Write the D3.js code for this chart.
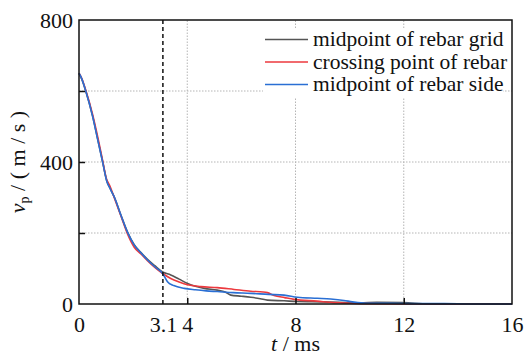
<!DOCTYPE html>
<html>
<head>
<meta charset="utf-8">
<script src="https://cdn.jsdelivr.net/npm/d3@7"></script>
<style>
  html, body { margin: 0; padding: 0; background: #fff; }
  svg { display: block; }
</style>
</head>
<body>
<svg id="chart" width="524" height="355"></svg>
<script>
// Particle velocity decay over time at three measuring points
const seriesNames = ["midpoint of rebar grid", "crossing point of rebar", "midpoint of rebar side"];
const seriesColors = ["#555555", "#ec393e", "#2a6fd4"];

// time (ms) and velocity (m/s) for each measuring point
const gridT = [0, 0.1, 0.25, 0.5, 0.7, 0.87, 1.03, 1.15, 1.3, 1.55, 1.8, 2.04, 2.3, 2.53, 2.8, 3.09, 3.39, 3.7, 4.01, 4.3, 4.63, 5.11, 5.4, 5.61, 6.0, 6.35, 6.7, 6.96, 7.58, 8.07, 9.0, 10.4, 11.0, 12.0, 12.9, 14.0, 16.0];
const gridV = [650, 634, 600, 530, 461, 402, 346, 326, 302, 250, 201, 167, 144, 126, 108, 90, 82, 70, 58, 50, 44, 39, 34, 25, 22, 19, 15, 11, 9, 7, 6, 3, 5, 4, 0, 0, 0];

const crossT = [0, 0.1, 0.25, 0.5, 0.7, 0.87, 1.0, 1.15, 1.3, 1.55, 1.8, 2.04, 2.3, 2.53, 2.8, 3.09, 3.39, 3.7, 4.01, 4.5, 5.11, 5.73, 6.35, 6.8, 6.96, 7.21, 7.6, 7.95, 8.8, 9.4, 9.79, 10.4, 12.0, 16.0];
const crossV = [650, 636, 602, 535, 468, 405, 356, 331, 300, 248, 196, 160, 140, 122, 103, 86, 72, 62, 54, 49, 46, 41, 36, 34, 32, 24, 18, 13, 8, 4, 3, 1, 0, 0];

const sideT = [0, 0.1, 0.25, 0.5, 0.7, 0.87, 1.03, 1.15, 1.3, 1.55, 1.8, 2.04, 2.3, 2.53, 2.8, 3.09, 3.27, 3.5, 3.89, 4.3, 4.7, 5.11, 5.7, 6.35, 7.0, 7.58, 8.07, 8.8, 9.3, 9.79, 10.1, 10.6, 11.5, 12.5, 13.5, 14.5, 16.0];
const sideV = [650, 635, 600, 530, 460, 401, 345, 325, 302, 250, 201, 166, 143, 124, 105, 86, 63, 52, 44, 40, 37, 35, 32, 30, 27, 25, 19, 16, 14, 10, 6, 2, 2, 1, 1, 0, 0];

const xLabelTicks = [0, 3.1, 4, 8, 12, 16];
const xInnerTicks = [4, 8, 12];
const yLabelTicks = [0, 400, 800];
const yInnerTicks = [200, 400, 600];
const markerTime = 3.1;

const series = [
  { name: seriesNames[0], color: seriesColors[0], t: gridT, v: gridV },
  { name: seriesNames[1], color: seriesColors[1], t: crossT, v: crossV },
  { name: seriesNames[2], color: seriesColors[2], t: sideT, v: sideV }
];

const svg = d3.select("#chart");
const m = { left: 79, right: 12, top: 20, bottom: 51 };
const W = 524, H = 355;
const x = d3.scaleLinear().domain([0, 16]).range([m.left, W - m.right]);
const y = d3.scaleLinear().domain([0, 800]).range([H - m.bottom, m.top]);

const FS = 22;
const FONT = "Liberation Serif";

// dotted grid
const grid = svg.append("g").attr("stroke", "#b5b5b5").attr("stroke-width", 1).attr("stroke-dasharray", "1.5,1.5");
grid.selectAll("line.gx").data(xInnerTicks).join("line")
  .attr("x1", d => x(d)).attr("x2", d => x(d)).attr("y1", y(0)).attr("y2", y(800));
grid.selectAll("line.gy").data(yInnerTicks).join("line")
  .attr("x1", x(0)).attr("x2", x(16)).attr("y1", d => y(d)).attr("y2", d => y(d));

// legend background masks the grid
svg.append("rect").attr("x", 263).attr("y", 28).attr("width", 240).attr("height", 70).attr("fill", "#fff");

// curves
const line = d3.line().x(d => x(d[0])).y(d => y(d[1])).curve(d3.curveMonotoneX);
svg.append("g").selectAll("path").data(series).join("path")
  .attr("d", s => line(s.t.map((t, i) => [t, s.v[i]])))
  .attr("fill", "none").attr("stroke", s => s.color).attr("stroke-width", 1.6)
  .attr("stroke-linejoin", "round");

// dashed marker
svg.append("line")
  .attr("x1", x(markerTime)).attr("x2", x(markerTime)).attr("y1", y(0)).attr("y2", y(800))
  .attr("stroke", "#111").attr("stroke-width", 1.5).attr("stroke-dasharray", "4,3");

// inner ticks
const xTick = svg.append("g").attr("transform", `translate(0,${y(0)})`)
  .call(d3.axisTop(x).tickValues(xInnerTicks).tickSize(6).tickFormat(""));
const yTick = svg.append("g").attr("transform", `translate(${x(0)},0)`)
  .call(d3.axisRight(y).tickValues(yInnerTicks).tickSize(6).tickFormat(""));
[xTick, yTick].forEach(g => {
  g.select(".domain").remove();
  g.selectAll("line").attr("stroke", "#111").attr("stroke-width", 1.5);
});

// tick labels
const xAx = svg.append("g").attr("transform", `translate(0,${y(0)})`)
  .call(d3.axisBottom(x).tickValues(xLabelTicks).tickSize(0).tickFormat(d => String(d)));
xAx.attr("font-family", FONT).attr("font-size", FS);
xAx.select(".domain").remove();
xAx.selectAll("text").attr("y", 28).attr("dy", 0).attr("fill", "#111");

const yAx = svg.append("g").attr("transform", `translate(${x(0)},0)`)
  .call(d3.axisLeft(y).tickValues(yLabelTicks).tickSize(0).tickFormat(d => String(d)));
yAx.attr("font-family", FONT).attr("font-size", FS);
yAx.select(".domain").remove();
yAx.selectAll("text").attr("x", -6).attr("dy", "0.32em").attr("fill", "#111");

// frame
svg.append("rect").attr("x", x(0)).attr("y", y(800))
  .attr("width", x(16) - x(0)).attr("height", y(0) - y(800))
  .attr("fill", "none").attr("stroke", "#111").attr("stroke-width", 1.5);

// legend
const leg = svg.append("g").attr("font-family", FONT).attr("font-size", 21.5).attr("fill", "#111");
const rowY = [39.5, 62, 84.5];
series.forEach((s, i) => {
  leg.append("line").attr("x1", 265).attr("x2", 308).attr("y1", rowY[i]).attr("y2", rowY[i])
    .attr("stroke", s.color).attr("stroke-width", 1.6);
  leg.append("text").attr("x", 313).attr("y", rowY[i] + 6.5).text(s.name);
});

// axis titles
const xt = svg.append("text").attr("x", (x(0) + x(16)) / 2).attr("y", 351)
  .attr("text-anchor", "middle").attr("font-family", FONT).attr("font-size", FS).attr("fill", "#111");
xt.append("tspan").attr("font-style", "italic").text("t");
xt.append("tspan").text(" / ms");

const yt = svg.append("text").attr("transform", `translate(25,${(y(0) + y(800)) / 2}) rotate(-90)`)
  .attr("text-anchor", "middle").attr("font-family", FONT).attr("font-size", FS).attr("fill", "#111");
yt.append("tspan").attr("font-style", "italic").text("v");
yt.append("tspan").attr("font-size", 14).attr("dy", 4).text("p");
yt.append("tspan").attr("dy", -4).text(" / ( m / s )");
</script>
</body>
</html>
